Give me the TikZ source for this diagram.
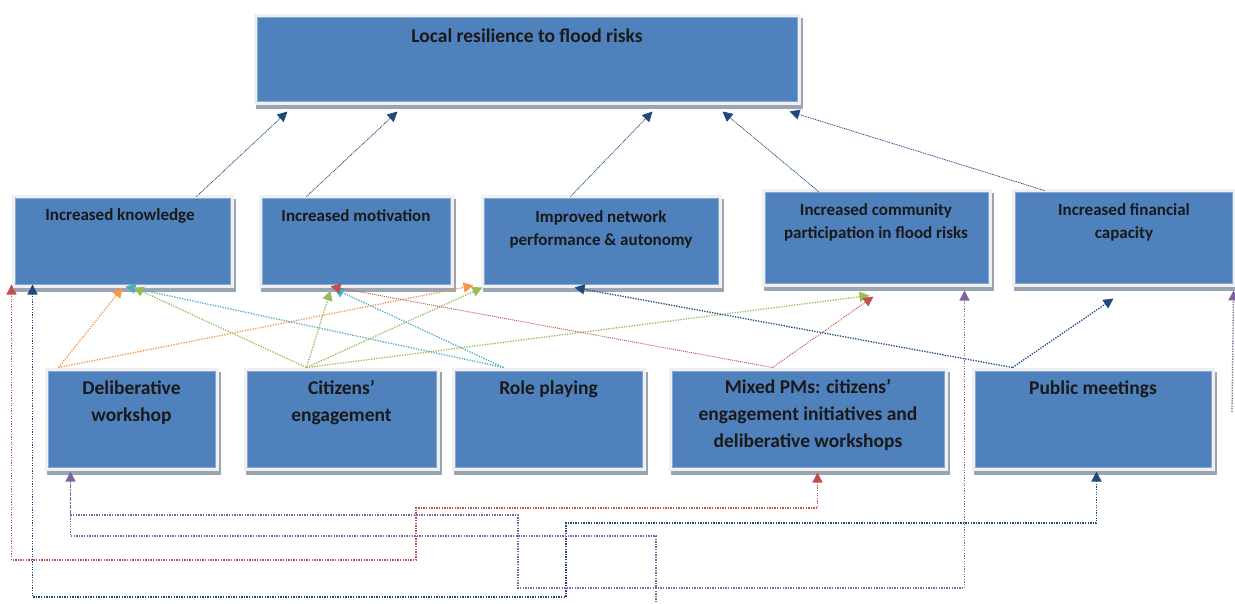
\documentclass[tikz,border=0pt]{standalone}
\usepackage{fontspec}
\setmainfont{Carlito}
\usetikzlibrary{arrows.meta,calc}
\definecolor{boxblue}{HTML}{4F81BD}
\definecolor{boxrim}{HTML}{86A9D6}
\definecolor{framegrey}{HTML}{F0F0F0}
\definecolor{shadowgrey}{HTML}{9AA5B4}
\definecolor{navy}{HTML}{1F497D}
\definecolor{linkred}{HTML}{C0504D}
\definecolor{linkorange}{HTML}{F79646}
\definecolor{linkgreen}{HTML}{9BBB59}
\definecolor{linkcyan}{HTML}{4BACC6}
\definecolor{linkpurple}{HTML}{8064A2}

\begin{document}
\begin{tikzpicture}[x=1pt,y=-1pt,
  box/.style={rectangle, inner sep=0pt, fill=boxblue, draw=boxrim, line width=1pt,
    preaction={draw=shadowgrey, fill=shadowgrey, line width=7pt,
      transform canvas={shift={(2pt,-4pt)}}},
    preaction={draw=framegrey, fill=framegrey, line width=7pt}},
  midtext/.style={font=\bfseries\fontsize{17}{23}\selectfont, align=center, inner sep=0pt, text=black!90},
  bigtext/.style={font=\bfseries\fontsize{19.5}{27}\selectfont, align=center, inner sep=0pt, text=black!90},
  tip/.style={-{Triangle[length=10pt,width=10pt]}},
  dtip/.style={{Triangle[length=10pt,width=10pt]}-{Triangle[length=10pt,width=10pt]}},
  uplink/.style={tip, navy, line width=0.8pt, dash pattern=on 1pt off 0.8pt},
  link/.style={tip, line width=1.3pt, dash pattern=on 1.3pt off 1.3pt},
  thinlink/.style={tip, line width=0.9pt, dash pattern=on 1pt off 1pt},
  route/.style={line width=1.3pt, dash pattern=on 1.3pt off 1.3pt}
]
\useasboundingbox (0,0) rectangle (1235,603);

% goal box
\node[box, minimum width=540pt, minimum height=84pt] (goal) at (527,59) {};
\node[bigtext] (goal-t) at (527,36) {Local resilience to flood risks};

% outcome boxes
\node[box, minimum width=215pt, minimum height=86pt] (kn) at (122.5,241) {};
\node[box, minimum width=188pt, minimum height=86pt] (mo) at (356,241) {};
\node[box, minimum width=234pt, minimum height=86pt] (nw) at (601,241) {};
\node[box, minimum width=223pt, minimum height=91pt] (cm) at (876.5,237.5) {};
\node[box, minimum width=217pt, minimum height=91pt] (fi) at (1123.5,237.5) {};
\node[midtext] (kn-t) at (120,216) {Increased knowledge};
\node[midtext] (mo-t) at (356,216) {Increased motivation};
\node[midtext] (nw-t) at (601,229.5) {Improved network\\performance \& autonomy};
\node[midtext] (cm-t) at (876,222.5) {Increased community\\participation in flood risks};
\node[midtext] (fi-t) at (1124,222.5) {Increased financial\\capacity};

% participation mechanism boxes
\node[box, minimum width=167pt, minimum height=96pt] (del) at (131.5,419) {};
\node[box, minimum width=189pt, minimum height=96pt] (cit) at (341.5,419) {};
\node[box, minimum width=187pt, minimum height=96pt] (role) at (548.5,419) {};
\node[box, minimum width=272pt, minimum height=96pt] (mix) at (808,419) {};
\node[box, minimum width=236pt, minimum height=96pt] (pub) at (1093,419) {};
\node[bigtext] (del-t) at (131.5,402.5) {Deliberative\\workshop};
\node[bigtext] (cit-t) at (341.5,402.5) {Citizens’\\engagement};
\node[bigtext] (role-t) at (548.5,389) {Role playing};
\node[bigtext] (mix-t) at (808,415) {Mixed PMs: citizens’\\engagement initiatives and\\deliberative workshops};
\node[bigtext] (pub-t) at (1093,389) {Public meetings};

% outcomes feeding the goal
\draw[uplink] ($(kn.north west)+(182,-1)$) -- ($(goal.south west)+(31,10)$);
\draw[uplink] ($(mo.north west)+(45,-1)$) -- ($(goal.south west)+(141,10)$);
\draw[uplink] ($(nw.north west)+(87,-1)$) -- ($(goal.south west)+(396,10)$);
\draw[uplink] ($(cm.north west)+(54,0)$) -- ($(goal.south west)+(466,10)$);
\draw[uplink] ($(fi.north west)+(30,-1)$) -- ($(goal.south west)+(533,10)$);

% mechanisms feeding the outcomes
\draw[link, linkorange] ($(del.north west)+(11,-3)$) -- ($(kn.south west)+(108,3)$);
\draw[link, linkorange] ($(del.north west)+(11,-3)$) -- ($(nw.south west)+(-10,1)$);
\draw[link, linkcyan] ($(role.north west)+(49,-3)$) -- ($(kn.south west)+(111,2)$);
\draw[link, linkcyan] ($(role.north west)+(49,-3)$) -- ($(mo.south west)+(72,4)$);
\draw[link, linkgreen] ($(cit.north west)+(60,-3)$) -- ($(kn.south west)+(119,3)$);
\draw[link, linkgreen] ($(cit.north west)+(60,-3)$) -- ($(mo.south west)+(69,6)$);
\draw[link, linkgreen] ($(cit.north west)+(60,-3)$) -- ($(nw.south west)+(-1,3)$);
\draw[link, linkgreen] ($(cit.north west)+(60,-3)$) -- ($(cm.south west)+(105,12)$);
\draw[thinlink, linkred] ($(mix.north west)+(101,-3)$) -- ($(mo.south west)+(69,2)$);
\draw[thinlink, linkred] ($(mix.north west)+(101,-3)$) -- ($(cm.south west)+(109,13)$);
\draw[link, navy] ($(pub.north west)+(38,-3)$) -- ($(nw.south west)+(91,3)$);
\draw[link, navy] ($(pub.north west)+(38,-3)$) -- ($(fi.south west)+(99,15)$);

% routed links below the mechanisms
\draw[route, dtip, linkred] ($(mix.south west)+(146,5)$) |- (416,508) -- (416,560) -| ($(kn.south west)+(-3,0)$);
\draw[route, dtip, navy] ($(pub.south west)+(122,4)$) |- (566,523) -- (566,597) -| ($(kn.south west)+(18,0)$);
\draw[route, dtip, linkpurple] ($(del.south west)+(23,4)$) |- (518,515) -- (518,588) -| ($(cm.south west)+(200,7)$);
\coordinate (offpage) at (656,610);
\draw[route, linkpurple] ($(del.south west)+(23,4)$) |- (656,536) -- (offpage);
\coordinate (edgefeed) at (1232,412);
\draw[route, tip, linkpurple] (edgefeed) -- ($(fi.south east)+(1,7)$);
\end{tikzpicture}
\end{document}
